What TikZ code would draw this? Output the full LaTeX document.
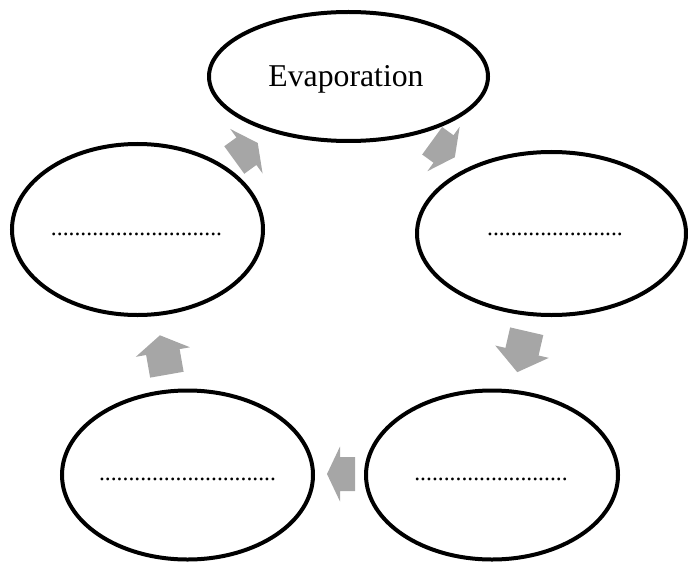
\documentclass[tikz,border=0pt]{standalone}
\usepackage{fontspec}
\setmainfont{Liberation Serif}
\usetikzlibrary{shapes.geometric}
\definecolor{arrowgray}{RGB}{166,166,166}
% block arrow: centre, angle, length, head length
\newcommand\cyclearrow[4]{\fill[arrowgray,shift={#1},rotate=#2] (-#3/2,-17)--(#3/2-#4,-17)--(#3/2-#4,-27.5)--(#3/2,0)--(#3/2-#4,27.5)--(#3/2-#4,17)--(-#3/2,17)--cycle;}
\newcommand\dotrow[1]{\foreach\i in {1,...,#1}{.}}
\begin{document}
\begin{tikzpicture}[x=0.75pt,y=-0.75pt,
  stage/.style={draw,ellipse,line width=3pt,fill=white,inner sep=0pt},
  dots/.style={font=\fontsize{17.7}{20}\selectfont,anchor=base,inner sep=0pt}]
\useasboundingbox (0,0) rectangle (688,563);
% arrows of the cycle
\cyclearrow{(246,151.5)}{36}{29}{14}
\cyclearrow{(443.5,149)}{-36}{28}{14}
\cyclearrow{(522,351.7)}{-103}{42}{21}
\cyclearrow{(341,474)}{180}{28}{13}
\cyclearrow{(163.4,355)}{100}{40}{17}
% stages
\node[stage,minimum width=209.25pt,minimum height=96.75pt] (evap) at (348.5,76.5) {};
\node[stage,minimum width=201.75pt,minimum height=122.25pt] (stageR) at (551.5,233.5) {};
\node[stage,minimum width=189pt,minimum height=126.75pt] (stageBR) at (492,475) {};
\node[stage,minimum width=188.25pt,minimum height=126.75pt] (stageBL) at (187.5,475) {};
\node[stage,minimum width=188.25pt,minimum height=128.25pt] (stageL) at (137.5,229.5) {};
\node[font=\fontsize{23.8}{28}\selectfont,anchor=base] (evaptext) at (346,87) {Evaporation};
\node[dots] (dotsR) at (555,235.5) {\dotrow{23}};
\node[dots] (dotsBR) at (491,480.5) {\dotrow{26}};
\node[dots] (dotsBL) at (187.5,480.5) {\dotrow{30}};
\node[dots] (dotsL) at (136.5,235.5) {\dotrow{29}};
\end{tikzpicture}
\end{document}
